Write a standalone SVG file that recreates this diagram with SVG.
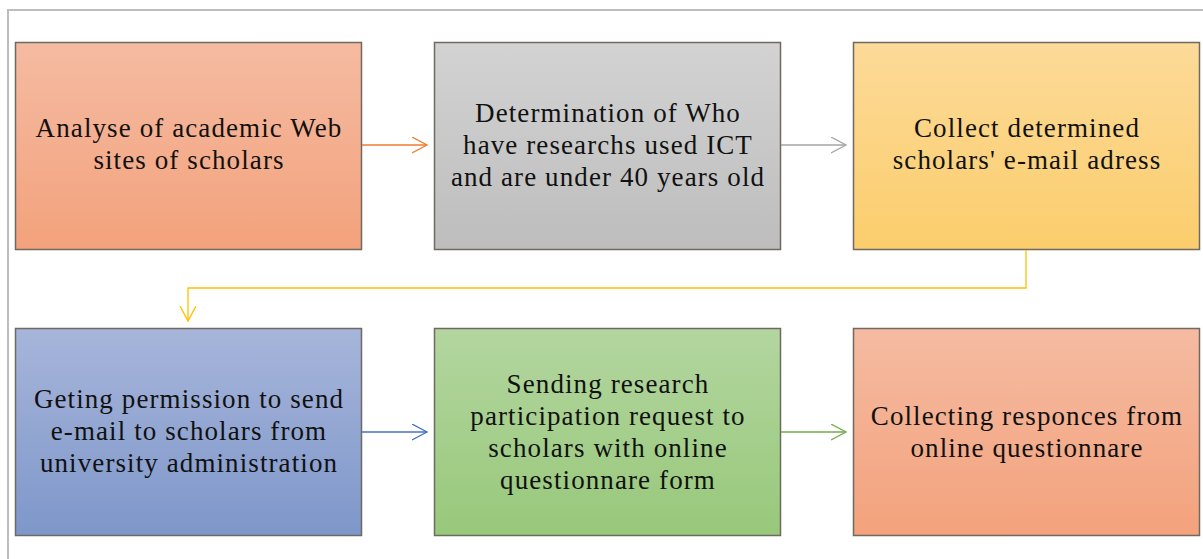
<svg xmlns="http://www.w3.org/2000/svg" width="1203" height="559" viewBox="0 0 1203 559">
<defs>
<linearGradient id="gOr" x1="0" y1="0" x2="0" y2="1"><stop offset="0" stop-color="#F5BBA2"/><stop offset="1" stop-color="#F3A27C"/></linearGradient>
<linearGradient id="gGr" x1="0" y1="0" x2="0" y2="1"><stop offset="0" stop-color="#D3D3D3"/><stop offset="1" stop-color="#BDBDBD"/></linearGradient>
<linearGradient id="gYe" x1="0" y1="0" x2="0" y2="1"><stop offset="0" stop-color="#FCDA98"/><stop offset="1" stop-color="#FBCD6C"/></linearGradient>
<linearGradient id="gBl" x1="0" y1="0" x2="0" y2="1"><stop offset="0" stop-color="#A7B5DA"/><stop offset="1" stop-color="#7E97CA"/></linearGradient>
<linearGradient id="gGn" x1="0" y1="0" x2="0" y2="1"><stop offset="0" stop-color="#B3D6A0"/><stop offset="1" stop-color="#98C87A"/></linearGradient>
<marker id="mOr" markerUnits="userSpaceOnUse" markerWidth="20" markerHeight="20" refX="15" refY="8" orient="auto"><path d="M0,0 L15,8 L0,16" fill="none" stroke="#ED7D31" stroke-width="1.3"/></marker>
<marker id="mGy" markerUnits="userSpaceOnUse" markerWidth="20" markerHeight="20" refX="15" refY="8" orient="auto"><path d="M0,0 L15,8 L0,16" fill="none" stroke="#A5A5A5" stroke-width="1.3"/></marker>
<marker id="mYe" markerUnits="userSpaceOnUse" markerWidth="20" markerHeight="20" refX="15" refY="8" orient="auto"><path d="M0,0 L15,8 L0,16" fill="none" stroke="#FFC000" stroke-width="1.3"/></marker>
<marker id="mBl" markerUnits="userSpaceOnUse" markerWidth="20" markerHeight="20" refX="15" refY="8" orient="auto"><path d="M0,0 L15,8 L0,16" fill="none" stroke="#4472C4" stroke-width="1.3"/></marker>
<marker id="mGn" markerUnits="userSpaceOnUse" markerWidth="20" markerHeight="20" refX="15" refY="8" orient="auto"><path d="M0,0 L15,8 L0,16" fill="none" stroke="#70AD47" stroke-width="1.3"/></marker>
</defs>
<style>
.box{stroke:#6E6A62;stroke-width:1.5}
.t{font-family:"Liberation Serif","DejaVu Serif",serif;font-size:27px;letter-spacing:1.1px;fill:#111;text-anchor:middle}
.c{fill:none;stroke-width:1.3}
</style>
<rect width="1203" height="559" fill="#fff"/>
<path d="M8,559 L8,10 L1203,10" fill="none" stroke="#BDBDBD" stroke-width="2"/>
<g id="n1"><rect class="box" x="15.5" y="42.5" width="346" height="207" fill="url(#gOr)"/>
<text class="t" x="189" y="137">Analyse of academic Web</text><text class="t" x="189" y="169">sites of scholars</text></g>
<g id="n2"><rect class="box" x="434.5" y="42.5" width="346" height="207" fill="url(#gGr)"/>
<text class="t" x="608" y="122">Determination of Who</text><text class="t" x="608" y="154">have researchs used ICT</text><text class="t" x="608" y="186">and are under 40 years old</text></g>
<g id="n3"><rect class="box" x="853.5" y="42.5" width="346" height="207" fill="url(#gYe)"/>
<text class="t" x="1027" y="137">Collect determined</text><text class="t" x="1027" y="169">scholars' e-mail adress</text></g>
<g id="n4"><rect class="box" x="15.5" y="328.5" width="346" height="207" fill="url(#gBl)"/>
<text class="t" x="189" y="408">Geting permission to send</text><text class="t" x="189" y="440">e-mail to scholars from</text><text class="t" x="189" y="472">university administration</text></g>
<g id="n5"><rect class="box" x="434.5" y="328.5" width="346" height="207" fill="url(#gGn)"/>
<text class="t" x="608" y="393">Sending research</text><text class="t" x="608" y="425">participation request to</text><text class="t" x="608" y="457">scholars with online</text><text class="t" x="608" y="489">questionnare form</text></g>
<g id="n6"><rect class="box" x="853.5" y="328.5" width="346" height="207" fill="url(#gOr)"/>
<text class="t" x="1027" y="425">Collecting responces from</text><text class="t" x="1027" y="457">online questionnare</text></g>
<g id="connectors">
<path class="c" d="M362,145 L427,145" stroke="#ED7D31" marker-end="url(#mOr)"/>
<path class="c" d="M781,145 L846,145" stroke="#A5A5A5" marker-end="url(#mGy)"/>
<path class="c" d="M1026,250 L1026,288 L188,288 L188,321" stroke="#FFC000" marker-end="url(#mYe)"/>
<path class="c" d="M362,432 L427,432" stroke="#4472C4" marker-end="url(#mBl)"/>
<path class="c" d="M781,432 L846,432" stroke="#70AD47" marker-end="url(#mGn)"/>
</g>
</svg>
